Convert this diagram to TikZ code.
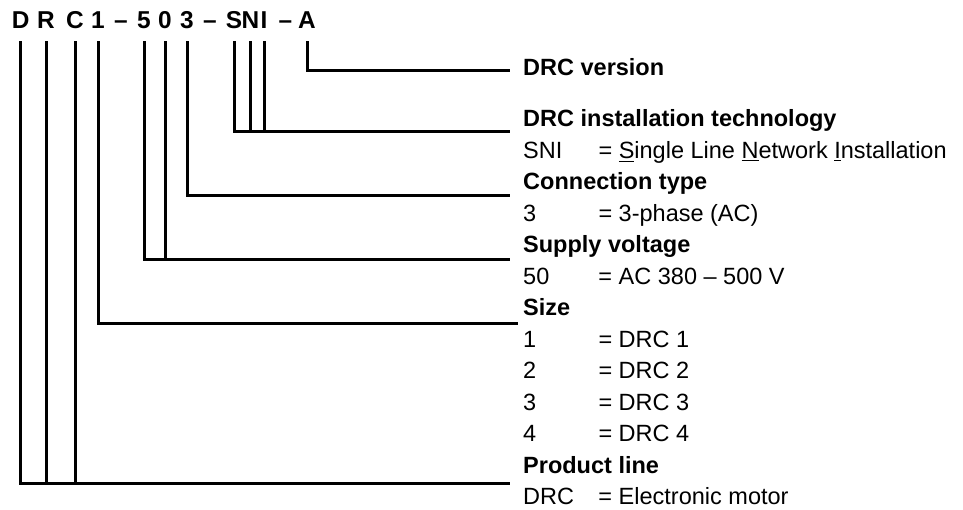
\documentclass[tikz,border=0pt]{standalone}
\usepackage{fontspec}
\setmainfont{Liberation Sans}
\newcommand{\keycol}[1]{\makebox[37.65pt][l]{#1}}

\begin{document}
\begin{tikzpicture}[x=0.5pt, y=-0.5pt, line width=1.5pt,
  code/.style={font=\fontsize{12.2}{14}\selectfont\bfseries, anchor=base,
    inner sep=0pt, outer ysep=6.5pt},
  head/.style={font=\fontsize{11.75}{14}\selectfont\bfseries, anchor=base west, inner sep=0pt},
  item/.style={font=\fontsize{11.75}{14}\selectfont, anchor=base west, inner sep=0pt}]
  \useasboundingbox (0,0) rectangle (963,509);
  % type designation
  \node[code] (D) at (20.7,28) {D};
  \node[code] (R) at (46,28) {R};
  \node[code] (C) at (75,28) {C};
  \node[code] (one) at (98,28) {1};
  \node[code] (dash1) at (121,28) {--};
  \node[code] (five) at (144,28) {5};
  \node[code] (zero) at (165,28) {0};
  \node[code] (three) at (187,28) {3};
  \node[code] (dash2) at (210,28) {--};
  \node[code] (S) at (234,28) {S};
  \node[code] (N) at (250.5,28) {N};
  \node[code] (I) at (264,28) {I};
  \node[code] (dash3) at (285.5,28) {--};
  \node[code] (A) at (307,28) {A};
  % explanations
  \node[head] (version) at (521.7,75.4) {DRC version};
  \node[head] (tech) at (521.7,126.5) {DRC installation technology};
  \node[item] (sni) at (521.7,158) {\keycol{SNI}= \underline{S}ingle Line \underline{N}etwork \underline{I}nstallation};
  \node[head] (conn) at (521.7,189.5) {Connection type};
  \node[item] (ac) at (521.7,221) {\keycol{3}= 3-phase (AC)};
  \node[head] (volt) at (521.7,252.5) {Supply voltage};
  \node[item] (v50) at (521.7,284) {\keycol{50}= AC 380 -- 500 V};
  \node[head] (size) at (521.7,315.5) {Size};
  \node[item] (s1) at (521.7,347) {\keycol{1}= DRC 1};
  \node[item] (s2) at (521.7,378.5) {\keycol{2}= DRC 2};
  \node[item] (s3) at (521.7,410) {\keycol{3}= DRC 3};
  \node[item] (s4) at (521.7,441.5) {\keycol{4}= DRC 4};
  \node[head] (pline) at (521.7,473) {Product line};
  \node[item] (drc) at (521.7,504.5) {\keycol{DRC}= Electronic motor};
  % line ends
  \coordinate (eversion) at (510,70);
  \coordinate (etech) at (510,131.7);
  \coordinate (econn) at (510,195.7);
  \coordinate (evolt) at (510,259.7);
  \coordinate (esize) at (518,323);
  \coordinate (epline) at (510,483);
  % connectors
  \draw (A.south) |- (eversion);
  \draw (S.south) |- (etech);
  \draw (N.south) -- (N.south |- etech);
  \draw (I.south) -- (I.south |- etech);
  \draw (three.south) |- (econn);
  \draw (five.south) |- (evolt);
  \draw (zero.south) -- (zero.south |- evolt);
  \draw (one.south) |- (esize);
  \draw (D.south) |- (epline);
  \draw (R.south) -- (R.south |- epline);
  \draw (C.south) -- (C.south |- epline);
\end{tikzpicture}
\end{document}
